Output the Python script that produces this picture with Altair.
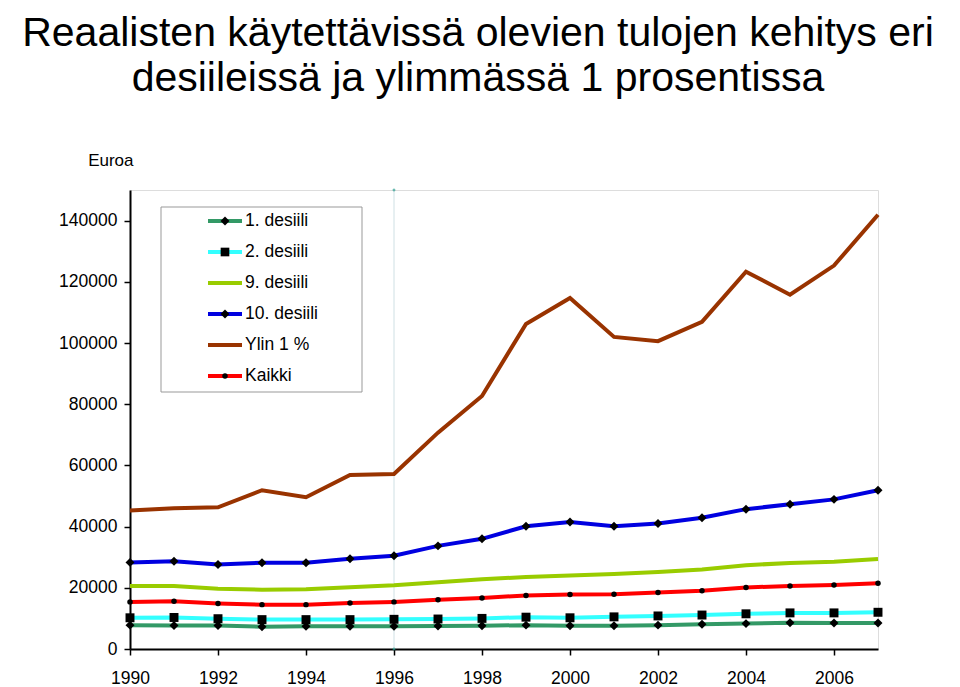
import altair as alt
import pandas as pd

years = list(range(1990, 2008))
series_names = ["1. desiili", "2. desiili", "9. desiili", "10. desiili", "Ylin 1 %", "Kaikki"]
d1 = [7800, 7700, 7700, 7300, 7400, 7400, 7400, 7500, 7600, 7800, 7600, 7600, 7800, 8100, 8300, 8600, 8500, 8500]
d2 = [10200, 10300, 9900, 9600, 9600, 9600, 9700, 9800, 10000, 10400, 10200, 10500, 10800, 11100, 11500, 11800, 11800, 12000]
d9 = [20600, 20600, 19700, 19400, 19500, 20200, 20800, 21800, 22800, 23500, 24000, 24500, 25200, 26000, 27400, 28100, 28500, 29400]
d10 = [28300, 28700, 27600, 28200, 28200, 29500, 30500, 33700, 36000, 40100, 41500, 40100, 41000, 42900, 45700, 47300, 48900, 51900]
top1 = [45300, 46000, 46300, 51900, 49600, 56900, 57200, 70700, 82700, 106200, 114700, 102000, 100600, 106900, 123300, 115800, 125300, 141900]
kaikki = [15400, 15600, 14900, 14500, 14500, 15000, 15400, 16100, 16700, 17500, 17800, 17900, 18500, 19000, 20100, 20600, 20900, 21500]
colors = ["#339966", "#33FFFF", "#99CC00", "#0000E0", "#993300", "#FF0000"]
diamond_series = ["1. desiili", "10. desiili"]
square_series = ["2. desiili"]
circle_series = ["Kaikki"]
x_ticks = list(range(1990, 2007, 2))
y_ticks = list(range(0, 140001, 20000))

rows = []
for name, vals in zip(series_names, [d1, d2, d9, d10, top1, kaikki]):
    for y, v in zip(years, vals):
        rows.append({"Vuosi": y, "Euroa": v, "Sarja": name})
df = pd.DataFrame(rows)
leg_df = pd.DataFrame({"Sarja": series_names})

FONT = "Liberation Sans"

x_enc = alt.X("Vuosi:Q", scale=alt.Scale(domain=[1990, 2007], nice=False, zero=False),
              axis=alt.Axis(values=x_ticks, format="d", title=None, grid=False,
                            labelFontSize=17.5, labelColor="black", labelPadding=14,
                            labelFlush=False, labelOverlap=False,
                            tickSize=6, tickColor="black", tickWidth=1.5,
                            domainColor="black", domainWidth=2, labelFont=FONT))
y_enc = alt.Y("Euroa:Q", scale=alt.Scale(domain=[0, 150000], nice=False),
              axis=alt.Axis(values=y_ticks, format="d", title="Euroa", grid=False,
                            labelFontSize=17.5, labelColor="black", labelPadding=7,
                            labelFlush=False, labelOverlap=False,
                            tickSize=6, tickColor="black", tickWidth=1.5,
                            domainColor="black", domainWidth=2,
                            titleAngle=0, titleAlign="right", titleBaseline="middle",
                            titleX=3, titleY=-30, titleFontSize=17, titleFontWeight="normal",
                            titleColor="black", titleFont=FONT, labelFont=FONT))

color_enc = alt.Color("Sarja:N", scale=alt.Scale(domain=series_names, range=colors), legend=None)

ref = pd.DataFrame({"Vuosi": [1996, 1996], "Euroa": [0, 150000]})
rule = alt.Chart(ref).mark_line(color="#cfe0e4", strokeWidth=1).encode(x=x_enc, y=y_enc)
rule_pts = alt.Chart(ref).mark_point(shape="diamond", filled=True, color="#2a9d8f", size=12).encode(x=x_enc, y=y_enc)

lines = alt.Chart(df).mark_line(strokeWidth=4).encode(x=x_enc, y=y_enc, color=color_enc)


def marker_layer(data, names, shape, size, x, y):
    return alt.Chart(data).transform_filter(
        alt.FieldOneOfPredicate(field="Sarja", oneOf=names)
    ).mark_point(filled=True, color="black", opacity=1, shape=shape, size=size).encode(
        x=x, y=y, detail="Sarja:N"
    )


main = alt.layer(
    rule, rule_pts, lines,
    marker_layer(df, diamond_series, "diamond", 80, x_enc, y_enc),
    marker_layer(df, square_series, "square", 80, x_enc, y_enc),
    marker_layer(df, circle_series, "circle", 30, x_enc, y_enc),
)

# Legend drawn as its own layer (row positions come from a point scale)
leg_y = alt.Y("Sarja:N", scale=alt.Scale(type="point", domain=series_names, range=[31, 186], padding=0),
              axis=None)
leg_box = alt.Chart(pd.DataFrame({"a": [0]})).mark_rect(
    fill="white", stroke="#999999", strokeWidth=1
).encode(x=alt.value(31), x2=alt.value(232), y=alt.value(17), y2=alt.value(202))
leg_lines = alt.Chart(leg_df).mark_rule(strokeWidth=4).encode(
    x=alt.value(78), x2=alt.value(112), y=leg_y, color=color_enc)
leg_text = alt.Chart(leg_df).mark_text(
    align="left", baseline="middle", fontSize=17.5, font=FONT, color="black"
).encode(x=alt.value(115), y=leg_y, text="Sarja:N")
legend = alt.layer(
    leg_box, leg_lines,
    marker_layer(leg_df, diamond_series, "diamond", 80, alt.value(95), leg_y),
    marker_layer(leg_df, square_series, "square", 75, alt.value(95), leg_y),
    marker_layer(leg_df, circle_series, "circle", 30, alt.value(95), leg_y),
    leg_text,
)

chart = alt.layer(main, legend).resolve_scale(y="independent").properties(
    width=748, height=459,
    padding={"left": 122, "top": 182, "right": 74, "bottom": 40},
    autosize=alt.AutoSizeParams(type="none"),
    title=alt.TitleParams(
        text=["Reaalisten käytettävissä olevien tulojen kehitys eri",
              "desiileissä ja ylimmässä 1 prosentissa"],
        fontSize=41, font=FONT, fontWeight="normal", color="black",
        anchor="middle", frame="group", dx=-26, lineHeight=45, offset=51,
    ),
).configure_view(stroke="#888888", strokeWidth=1).configure(background="white")

chart.save("out.html", embed_options={"renderer": "svg", "actions": False})
